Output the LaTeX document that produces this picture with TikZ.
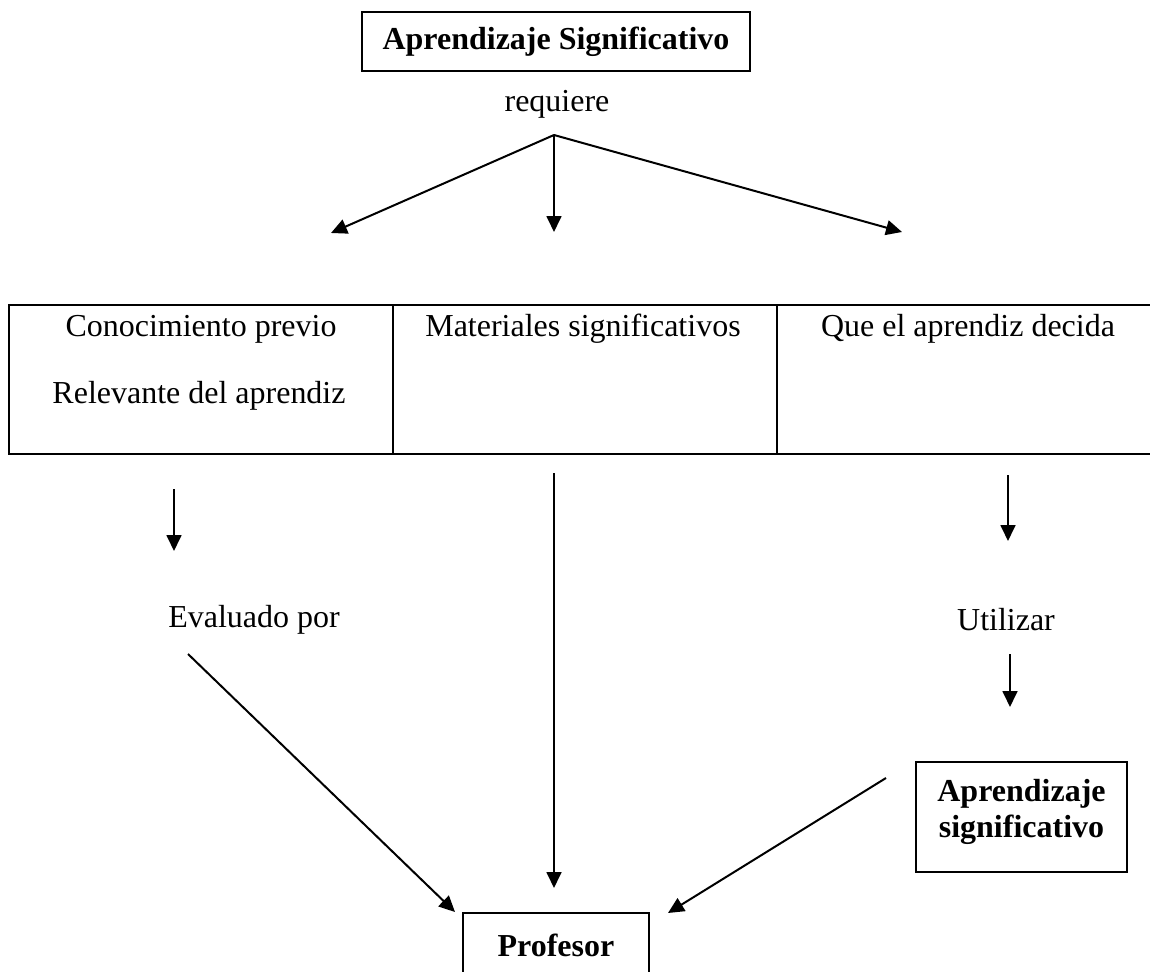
\documentclass[tikz,border=0pt]{standalone}
\usepackage{fontspec}
\setmainfont{Liberation Serif}
\usetikzlibrary{positioning, arrows.meta}
\tikzstyle{box} = [rectangle, draw=black, line width=0.75pt, font=\fontsize{12}{13.8}\selectfont\bfseries, inner sep=0pt, align=center]
\tikzstyle{cell} = [rectangle, draw=black, line width=0.75pt, minimum width=144.1pt, minimum height=55.9pt, inner sep=0pt, outer sep=0pt]
\tikzstyle{txt} = [inner sep=0pt]
\tikzstyle{arrow} = [line width=0.75pt, -{Triangle[length=6pt, width=5.6pt]}]

\begin{document}
\begin{tikzpicture}[x=0.3752pt, y=-0.3752pt, font=\fontsize{12}{13.8}\selectfont]
	\useasboundingbox (0,0) rectangle (1150,972);
	\node (top) [box, minimum width=145.6pt, minimum height=22.1pt] at (556,41.5) {Aprendizaje Significativo};
	\node (req) [txt] at (557,104) {requiere};
	\coordinate (fork) at (554,135);
	\coordinate (toC1) at (331,233);
	\coordinate (toC2) at (554,232);
	\coordinate (toC3) at (902,232);

	\node (c1) [cell] at (201,379.5) {};
	\node (c2) [cell, right=0pt of c1] {};
	\node (c3) [cell, right=0pt of c2] {};
	\node (conoc) [txt] at (201,329) {Conocimiento previo};
	\node (relev) [txt] at (199,396) {Relevante del aprendiz};
	\node (mat) [txt] at (583,329) {Materiales significativos};
	\node (dec) [txt] at (968,329) {Que el aprendiz decida};

	\node (eval) [txt] at (254,620) {Evaluado por};
	\node (util) [txt] at (1006,620) {Utilizar};
	\node (sig) [box, minimum width=79.2pt, minimum height=41.3pt] at (1021.5,817) {Aprendizaje\\significativo\rule[-6.4pt]{0pt}{6.4pt}};
	\node (prof) [box, minimum width=69.8pt, minimum height=24pt] at (556,945) {Profesor};

	\coordinate (evalA) at (174,489);
	\coordinate (evalB) at (174,551);
	\coordinate (evalC) at (188,654);
	\coordinate (profL) at (455,912);
	\coordinate (matA) at (554,473);
	\coordinate (profM) at (554,888);
	\coordinate (utilA) at (1008,475);
	\coordinate (utilB) at (1008,541);
	\coordinate (utilC) at (1010,654);
	\coordinate (utilD) at (1010,707);
	\coordinate (sigA) at (886,778);
	\coordinate (profR) at (668,913);

	\draw [arrow] (fork) -- (toC1);
	\draw [arrow] (fork) -- (toC2);
	\draw [arrow] (fork) -- (toC3);
	\draw [arrow] (evalA) -- (evalB);
	\draw [arrow] (evalC) -- (profL);
	\draw [arrow] (matA) -- (profM);
	\draw [arrow] (utilA) -- (utilB);
	\draw [arrow] (utilC) -- (utilD);
	\draw [arrow] (sigA) -- (profR);
\end{tikzpicture}
\end{document}
